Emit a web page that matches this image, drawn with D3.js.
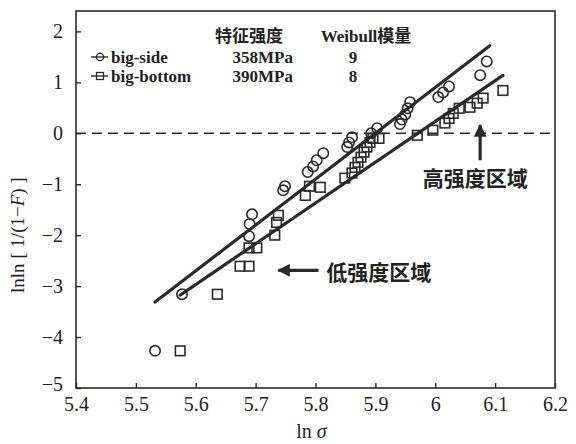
<!DOCTYPE html>
<html>
<head>
<meta charset="utf-8">
<script src="https://cdn.jsdelivr.net/npm/d3@7"></script>
<style>
  body { margin: 0; background: #fff; }
  svg text { fill: #222; }
</style>
</head>
<body>
<div id="chart"></div>
<script>
// big-side specimens (ln sigma, lnln[1/(1-F)])
var sideX = [5.532, 5.577, 5.689, 5.690, 5.694, 5.746, 5.749, 5.787, 5.796, 5.802,
  5.813, 5.853, 5.856, 5.861, 5.893, 5.903, 5.941, 5.944, 5.950, 5.954,
  5.958, 6.005, 6.013, 6.023, 6.075, 6.086];
var sideY = [-4.27, -3.16, -2.02, -1.78, -1.59, -1.12, -1.04, -0.76, -0.65, -0.53,
  -0.39, -0.27, -0.18, -0.08, 0.00, 0.10, 0.18, 0.27, 0.37, 0.49,
  0.61, 0.71, 0.80, 0.92, 1.14, 1.41];

// big-bottom specimens
var bottomX = [5.574, 5.636, 5.674, 5.689, 5.689, 5.702, 5.732, 5.735, 5.738, 5.783,
  5.790, 5.808, 5.849, 5.861, 5.866, 5.871, 5.876, 5.881, 5.886, 5.891,
  5.896, 5.906, 5.970, 5.996, 6.016, 6.023, 6.030, 6.040, 6.058, 6.070,
  6.080, 6.113];
var bottomY = [-4.27, -3.16, -2.61, -2.61, -2.25, -2.25, -2.00, -1.75, -1.61, -1.22,
  -1.04, -1.06, -0.88, -0.78, -0.67, -0.57, -0.47, -0.37, -0.27, -0.18,
  -0.10, -0.10, -0.04, 0.06, 0.20, 0.29, 0.39, 0.49, 0.51, 0.59,
  0.69, 0.84];

// fitted lines: [x start, x end], slope = Weibull modulus, zero crossing
var sideFit = {x: [5.532, 6.091], m: 9, x0: 5.900};
var bottomFit = {x: [5.574, 6.113], m: 8, x0: 5.971};

var xTicks = [5.4, 5.5, 5.6, 5.7, 5.8, 5.9, 6.0, 6.1, 6.2];
var yTicks = [-5, -4, -3, -2, -1, 0, 1, 2];

var legendNames = ['big-side', 'big-bottom'];
var legendStrength = ['358MPa', '390MPa'];
var legendModulus = ['9', '8'];

var width = 576, height = 444;
var margin = {top: 11, right: 21, bottom: 56, left: 76};
var serif = '"Liberation Serif", "DejaVu Serif", serif';
var cjk = '"Noto Sans CJK SC", sans-serif';
var ink = '#2a2a2a';

var svg = d3.select('#chart').append('svg')
  .attr('width', width)
  .attr('height', height);

var x = d3.scaleLinear().domain([5.4, 6.2]).range([margin.left, width - margin.right]);
var y = d3.scaleLinear().domain([-5, 2.4]).range([height - margin.bottom, margin.top]);

// frame
svg.append('rect')
  .attr('x', x(5.4)).attr('y', y(2.4))
  .attr('width', x(6.2) - x(5.4)).attr('height', y(-5) - y(2.4))
  .style('fill', 'none').style('stroke', ink).style('stroke-width', 1.6);

// axes with inward ticks
var xAxis = svg.append('g')
  .attr('transform', 'translate(0,' + y(-5) + ')')
  .call(d3.axisBottom(x).tickValues(xTicks).tickSize(-5).tickPadding(9)
    .tickFormat(function(d) { return d3.format('')(+d.toFixed(1)); }));
xAxis.select('.domain').remove();
xAxis.selectAll('line').style('stroke', ink).style('stroke-width', 1.4);
xAxis.selectAll('text').style('font-family', serif).style('font-size', '20px')
  .style('fill', '#222').attr('dy', '0.72em');

var yAxis = svg.append('g')
  .attr('transform', 'translate(' + x(5.4) + ',0)')
  .call(d3.axisLeft(y).tickValues(yTicks).tickSize(-5).tickPadding(13)
    .tickFormat(function(d) { return d < 0 ? '\u2212' + Math.abs(d) : d; }));
yAxis.select('.domain').remove();
yAxis.selectAll('line').style('stroke', ink).style('stroke-width', 1.4);
yAxis.selectAll('text').style('font-family', serif).style('font-size', '20px').style('fill', '#222');
yAxis.selectAll('.tick').filter(function(d) { return d === -5; })
  .select('text').attr('dy', '0.1em');

// zero line
svg.append('line')
  .attr('x1', x(5.4)).attr('x2', x(6.2))
  .attr('y1', y(0)).attr('y2', y(0))
  .style('stroke', ink).style('stroke-width', 1.6).style('stroke-dasharray', '10,6');

// fitted lines
[sideFit, bottomFit].forEach(function(f) {
  svg.append('line')
    .attr('x1', x(f.x[0])).attr('y1', y(f.m * (f.x[0] - f.x0)))
    .attr('x2', x(f.x[1])).attr('y2', y(f.m * (f.x[1] - f.x0)))
    .style('stroke', ink).style('stroke-width', 3.2).style('stroke-linecap', 'round');
});

// markers
svg.append('g').selectAll('circle')
  .data(d3.zip(sideX, sideY))
  .enter().append('circle')
    .attr('cx', function(d) { return x(d[0]); })
    .attr('cy', function(d) { return y(d[1]); })
    .attr('r', 5.2)
    .style('fill', 'none').style('stroke', ink).style('stroke-width', 1.6);

svg.append('g').selectAll('rect')
  .data(d3.zip(bottomX, bottomY))
  .enter().append('rect')
    .attr('x', function(d) { return x(d[0]) - 4.8; })
    .attr('y', function(d) { return y(d[1]) - 4.8; })
    .attr('width', 9.6).attr('height', 9.6)
    .style('fill', 'none').style('stroke', ink).style('stroke-width', 1.6);

// legend
var lg = svg.append('g');
lg.append('text').attr('x', 249).attr('y', 42).attr('text-anchor', 'middle')
  .style('font-family', cjk).style('font-weight', 'bold').style('font-size', '17px')
  .text('特征强度');
lg.append('text').attr('x', 366).attr('y', 42).attr('text-anchor', 'middle')
  .style('font-family', serif).style('font-weight', 'bold').style('font-size', '17px')
  .text('Weibull')
  .append('tspan').style('font-family', cjk).text('模量');

legendNames.forEach(function(name, i) {
  var ry = 57 + i * 19;
  lg.append('line').attr('x1', 91).attr('x2', 108).attr('y1', ry).attr('y2', ry)
    .style('stroke', ink).style('stroke-width', 1.4);
  if (i === 0) {
    lg.append('circle').attr('cx', 100).attr('cy', ry).attr('r', 3.6)
      .style('fill', 'none').style('stroke', ink).style('stroke-width', 1.3);
  } else {
    lg.append('rect').attr('x', 96.5).attr('y', ry - 3.5).attr('width', 7).attr('height', 7)
      .style('fill', 'none').style('stroke', ink).style('stroke-width', 1.3);
  }
  lg.append('text').attr('x', 111).attr('y', ry + 6)
    .style('font-family', serif).style('font-weight', 'bold').style('font-size', '17px')
    .text(name);
  lg.append('text').attr('x', 293).attr('y', ry + 6).attr('text-anchor', 'end')
    .style('font-family', serif).style('font-weight', 'bold').style('font-size', '17px')
    .text(legendStrength[i]);
  lg.append('text').attr('x', 353).attr('y', ry + 6).attr('text-anchor', 'middle')
    .style('font-family', serif).style('font-weight', 'bold').style('font-size', '17px')
    .text(legendModulus[i]);
});

// annotations
var defs = svg.append('defs');
defs.append('marker').attr('id', 'head')
  .attr('viewBox', '0 0 10 10').attr('refX', 9).attr('refY', 5)
  .attr('markerWidth', 4).attr('markerHeight', 4).attr('orient', 'auto')
  .append('path').attr('d', 'M0,0L10,5L0,10Z').style('fill', ink);

var lowArrow = {x: [5.805, 5.738], y: -2.69};
svg.append('line')
  .attr('x1', x(lowArrow.x[0])).attr('x2', x(lowArrow.x[1]))
  .attr('y1', y(lowArrow.y)).attr('y2', y(lowArrow.y))
  .style('stroke', ink).style('stroke-width', 3.2).attr('marker-end', 'url(#head)');
svg.append('text').attr('x', x(5.818)).attr('y', y(-2.73)).attr('dy', '0.36em')
  .style('font-family', cjk).style('font-weight', 'bold').style('font-size', '21px')
  .text('低强度区域');

var highArrow = {x: 6.075, y: [-0.53, 0.16]};
svg.append('line')
  .attr('x1', x(highArrow.x)).attr('x2', x(highArrow.x))
  .attr('y1', y(highArrow.y[0])).attr('y2', y(highArrow.y[1]))
  .style('stroke', ink).style('stroke-width', 3.2).attr('marker-end', 'url(#head)');
svg.append('text').attr('x', x(6.067)).attr('y', y(-0.88)).attr('dy', '0.36em')
  .attr('text-anchor', 'middle')
  .style('font-family', cjk).style('font-weight', 'bold').style('font-size', '21px')
  .text('高强度区域');

// axis titles
var xt = svg.append('text').attr('x', (x(5.4) + x(6.2)) / 2 - 4).attr('y', 438)
  .attr('text-anchor', 'middle')
  .style('font-family', serif).style('font-size', '20px');
xt.append('tspan').text('ln ');
xt.append('tspan').style('font-style', 'italic').text('σ');

var yt = svg.append('text')
  .attr('transform', 'translate(24,' + y(-2.0) + ')rotate(-90)')
  .attr('text-anchor', 'middle')
  .style('font-family', serif).style('font-size', '19px');
yt.append('tspan').text('lnln [ 1/(1\u2212');
yt.append('tspan').style('font-style', 'italic').text('F');
yt.append('tspan').text(') ]');
</script>
</body>
</html>
